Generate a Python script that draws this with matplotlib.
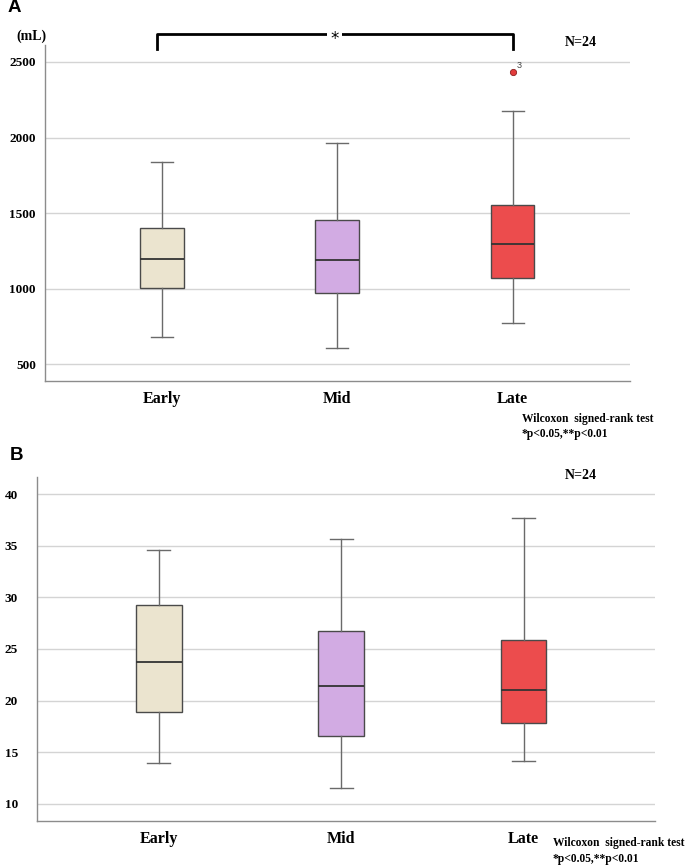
import matplotlib
matplotlib.use("Agg")
import matplotlib.pyplot as plt

# Data (box-plot stats)
groups = ["Early", "Mid", "Late"]
colors = ["#ebe4cf", "#d2abe3", "#ec4c4d"]

# Panel A: volume (mL)
a_whislo = [681, 608, 773]
a_q1 = [1003, 974, 1073]
a_med = [1195, 1192, 1298]
a_q3 = [1404, 1457, 1552]
a_whishi = [1836, 1964, 2176]
a_fliers = [[], [], [2432]]
a_yticks = [500, 1000, 1500, 2000, 2500]

# Panel B
b_whislo = [13.9, 11.5, 14.1]
b_q1 = [18.9, 16.55, 17.87]
b_med = [23.7, 21.4, 21.06]
b_q3 = [29.3, 26.7, 25.9]
b_whishi = [34.6, 35.65, 37.68]
b_fliers = [[], [], []]
b_yticks = [10, 15, 20, 25, 30, 35, 40]

serif = "Liberation Serif"
sans = "Liberation Sans"


def make_stats(lo, q1, med, q3, hi, fl):
    stats = []
    for i in range(len(groups)):
        stats.append({"label": groups[i], "whislo": lo[i], "q1": q1[i], "med": med[i],
                      "q3": q3[i], "whishi": hi[i], "fliers": fl[i]})
    return stats


def draw_panel(ax, stats, yticks, ylim, xlim, ypad):
    bp = ax.bxp(stats, positions=range(len(groups)), widths=0.25, capwidths=0.125,
                patch_artist=True, showfliers=True,
                boxprops=dict(edgecolor="#4a4a4a", linewidth=1.0),
                medianprops=dict(color="#333333", linewidth=1.3),
                whiskerprops=dict(color="#6a6a6a", linewidth=1.0),
                capprops=dict(color="#6a6a6a", linewidth=1.0),
                flierprops=dict(marker="o", markerfacecolor="#e23b3b",
                                markeredgecolor="#8a2020", markersize=4.5, markeredgewidth=0.6))
    for patch, c in zip(bp["boxes"], colors):
        patch.set_facecolor(c)
    ax.set_xlim(*xlim)
    ax.set_ylim(*ylim)
    ax.set_yticks(yticks)
    ax.yaxis.grid(True, color="#d4d4d4", linewidth=1.0)
    ax.set_axisbelow(True)
    for s in ["top", "right"]:
        ax.spines[s].set_visible(False)
    for s in ["left", "bottom"]:
        ax.spines[s].set_color("#8c8c8c")
        ax.spines[s].set_linewidth(1.0)
    ax.tick_params(axis="both", length=0)
    ax.tick_params(axis="y", pad=ypad)
    ax.tick_params(axis="x", pad=7)
    ax.set_xticks(range(len(groups)))
    ax.set_xticklabels(groups, fontfamily=serif, fontweight="bold", fontsize=11.5)
    for lab in ax.get_yticklabels():
        lab.set_fontfamily(serif)
        lab.set_fontweight("bold")
        lab.set_fontsize(9.5)
    return bp


fig = plt.figure(figsize=(6.85, 8.68), dpi=100)

# Panel A
axA = fig.add_axes([45 / 685, 1 - 381 / 868, 585 / 685, 336 / 868])
draw_panel(axA, make_stats(a_whislo, a_q1, a_med, a_q3, a_whishi, a_fliers),
           a_yticks, (390, 2612), (-0.667, 2.67), 6.5)
axA.annotate("3", xy=(2, a_fliers[2][0]), xytext=(3, 3), textcoords="offset points",
             fontsize=6.5, color="#444444", fontfamily=sans)

# significance bracket Early vs Late
br_top, br_bot = 2685, 2586
axA.plot([-0.03, -0.03, 2, 2], [br_bot, br_top, br_top, br_bot], color="black",
         linewidth=2.0, clip_on=False, solid_joinstyle="round")
axA.text(0.985, 2652, "*", ha="center", va="center", fontsize=12, fontfamily="DejaVu Sans",
         bbox=dict(facecolor="white", edgecolor="none", pad=2.5), clip_on=False)

fig.text(8 / 685, 1 - 8 / 868, "A", fontfamily=sans, fontweight="bold", fontsize=13.5, va="center")
fig.text(16 / 685, 1 - 36 / 868, "(mL)", fontfamily=serif, fontweight="bold", fontsize=10, va="center")
fig.text(565 / 685, 1 - 43 / 868, "N=24", fontfamily=serif, fontweight="bold", fontsize=10, va="center")
fig.text(522 / 685, 1 - 419 / 868, "Wilcoxon  signed-rank test", fontfamily=serif,
         fontweight="bold", fontsize=8.3, va="center")
fig.text(522 / 685, 1 - 434 / 868, "*p<0.05,**p<0.01", fontfamily=serif,
         fontweight="bold", fontsize=8.3, va="center")

# Panel B
axB = fig.add_axes([37 / 685, 1 - 821 / 868, 618 / 685, 344 / 868])
draw_panel(axB, make_stats(b_whislo, b_q1, b_med, b_q3, b_whishi, b_fliers),
           b_yticks, (8.33, 41.65), (-0.668, 2.72), 13.7)

fig.text(10 / 685, 1 - 456 / 868, "B", fontfamily=sans, fontweight="bold", fontsize=13.5, va="center")
fig.text(565 / 685, 1 - 476 / 868, "N=24", fontfamily=serif, fontweight="bold", fontsize=10, va="center")
fig.text(553 / 685, 1 - 843 / 868, "Wilcoxon  signed-rank test", fontfamily=serif,
         fontweight="bold", fontsize=8.3, va="center")
fig.text(553 / 685, 1 - 859 / 868, "*p<0.05,**p<0.01", fontfamily=serif,
         fontweight="bold", fontsize=8.3, va="center")

fig.savefig("out.png", dpi=100)
